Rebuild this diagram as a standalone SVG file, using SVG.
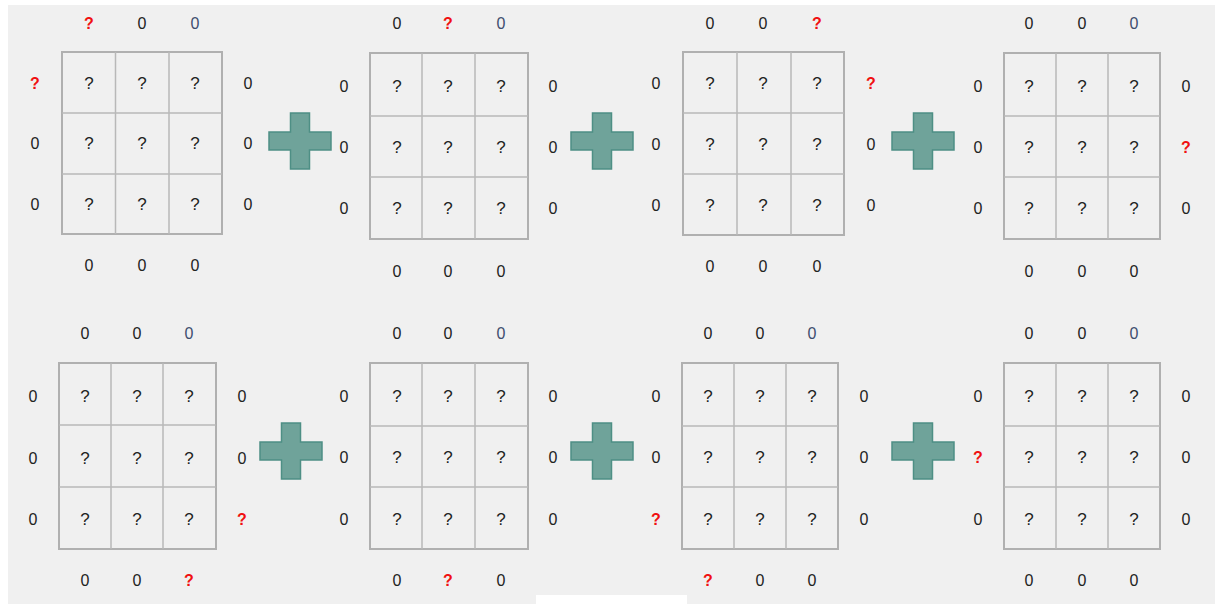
<svg xmlns="http://www.w3.org/2000/svg" width="1215" height="604" viewBox="0 0 1215 604">
<style>
.bg{fill:#f0f0f0}
.grid rect{fill:none;stroke:#b0b0b0;stroke-width:2}
.grid line{stroke:#b8b8b8;stroke-width:1.5}
text{font-family:"Liberation Sans",Arial,sans-serif;font-size:16px;text-anchor:middle;fill:#222}
.q{font-size:17px}
.r{fill:#f01010;font-weight:bold;font-size:16px}
.b{fill:#3e4d6e}
.plus{fill:#6fa39a;stroke:#4e8f85;stroke-width:1.5}
</style>
<rect x="0" y="0" width="1215" height="604" fill="#ffffff"/>
<rect class="bg" x="8" y="5" width="1207" height="599"/>
<rect x="536" y="595" width="151" height="9" fill="#ffffff"/>
<defs>
<path id="plusShape" d="M-9.5,-28 H9.5 V-9 H31 V9 H9.5 V28 H-9.5 V9 H-31 V-9 H-9.5 Z"/>
</defs>

<g id="grid1" class="grid">
<rect x="62" y="52" width="160" height="182"/>
<line x1="115.5" y1="52" x2="115.5" y2="234"/><line x1="169" y1="52" x2="169" y2="234"/>
<line x1="62" y1="113" x2="222" y2="113"/><line x1="62" y1="174" x2="222" y2="174"/>
<text class="r" x="89" y="29">?</text><text x="142" y="29">0</text><text class="b" x="195" y="29">0</text>
<text class="r" x="35" y="89">?</text><text x="35" y="149">0</text><text x="35" y="210">0</text>
<text x="248" y="89">0</text><text x="248" y="149">0</text><text x="248" y="210">0</text>
<text x="89" y="271">0</text><text x="142" y="271">0</text><text x="195" y="271">0</text>
<text class="q" x="89" y="89">?</text><text class="q" x="142" y="89">?</text><text class="q" x="195" y="89">?</text>
<text class="q" x="89" y="149">?</text><text class="q" x="142" y="149">?</text><text class="q" x="195" y="149">?</text>
<text class="q" x="89" y="210">?</text><text class="q" x="142" y="210">?</text><text class="q" x="195" y="210">?</text>
</g>

<g id="plus1"><use href="#plusShape" class="plus" x="300" y="141"/></g>

<g id="grid2" class="grid">
<rect x="370" y="53" width="158" height="186"/>
<line x1="422" y1="53" x2="422" y2="239"/><line x1="475" y1="53" x2="475" y2="239"/>
<line x1="370" y1="116" x2="528" y2="116"/><line x1="370" y1="177" x2="528" y2="177"/>
<text x="397" y="29">0</text><text class="r" x="448" y="29">?</text><text class="b" x="501" y="29">0</text>
<text x="344" y="92">0</text><text x="344" y="153">0</text><text x="344" y="214">0</text>
<text x="553" y="92">0</text><text x="553" y="153">0</text><text x="553" y="214">0</text>
<text x="397" y="277">0</text><text x="448" y="277">0</text><text x="501" y="277">0</text>
<text class="q" x="397" y="92">?</text><text class="q" x="448" y="92">?</text><text class="q" x="501" y="92">?</text>
<text class="q" x="397" y="153">?</text><text class="q" x="448" y="153">?</text><text class="q" x="501" y="153">?</text>
<text class="q" x="397" y="214">?</text><text class="q" x="448" y="214">?</text><text class="q" x="501" y="214">?</text>
</g>

<g id="plus2"><use href="#plusShape" class="plus" x="602" y="141"/></g>

<g id="grid3" class="grid">
<rect x="683" y="52" width="161" height="183"/>
<line x1="737" y1="52" x2="737" y2="235"/><line x1="791" y1="52" x2="791" y2="235"/>
<line x1="683" y1="113" x2="844" y2="113"/><line x1="683" y1="174" x2="844" y2="174"/>
<text x="710" y="29">0</text><text x="763" y="29">0</text><text class="r" x="817" y="29">?</text>
<text x="656" y="89">0</text><text x="656" y="150">0</text><text x="656" y="211">0</text>
<text class="r" x="871" y="89">?</text><text x="871" y="150">0</text><text x="871" y="211">0</text>
<text x="710" y="272">0</text><text x="763" y="272">0</text><text x="817" y="272">0</text>
<text class="q" x="710" y="89">?</text><text class="q" x="763" y="89">?</text><text class="q" x="817" y="89">?</text>
<text class="q" x="710" y="150">?</text><text class="q" x="763" y="150">?</text><text class="q" x="817" y="150">?</text>
<text class="q" x="710" y="211">?</text><text class="q" x="763" y="211">?</text><text class="q" x="817" y="211">?</text>
</g>

<g id="plus3"><use href="#plusShape" class="plus" x="923" y="141"/></g>

<g id="grid4" class="grid">
<rect x="1004" y="53" width="156" height="186"/>
<line x1="1056" y1="53" x2="1056" y2="239"/><line x1="1108" y1="53" x2="1108" y2="239"/>
<line x1="1004" y1="116" x2="1160" y2="116"/><line x1="1004" y1="177" x2="1160" y2="177"/>
<text x="1029" y="29">0</text><text x="1082" y="29">0</text><text class="b" x="1134" y="29">0</text>
<text x="978" y="92">0</text><text x="978" y="153">0</text><text x="978" y="214">0</text>
<text x="1186" y="92">0</text><text class="r" x="1186" y="153">?</text><text x="1186" y="214">0</text>
<text x="1029" y="277">0</text><text x="1082" y="277">0</text><text x="1134" y="277">0</text>
<text class="q" x="1029" y="92">?</text><text class="q" x="1082" y="92">?</text><text class="q" x="1134" y="92">?</text>
<text class="q" x="1029" y="153">?</text><text class="q" x="1082" y="153">?</text><text class="q" x="1134" y="153">?</text>
<text class="q" x="1029" y="214">?</text><text class="q" x="1082" y="214">?</text><text class="q" x="1134" y="214">?</text>
</g>

<g id="grid5" class="grid">
<rect x="59" y="363" width="157" height="186"/>
<line x1="111" y1="363" x2="111" y2="549"/><line x1="163" y1="363" x2="163" y2="549"/>
<line x1="59" y1="425" x2="216" y2="425"/><line x1="59" y1="487" x2="216" y2="487"/>
<text x="85" y="339">0</text><text x="137" y="339">0</text><text class="b" x="189" y="339">0</text>
<text x="33" y="402">0</text><text x="33" y="464">0</text><text x="33" y="525">0</text>
<text x="242" y="402">0</text><text x="242" y="464">0</text><text class="r" x="242" y="525">?</text>
<text x="85" y="586">0</text><text x="137" y="586">0</text><text class="r" x="189" y="586">?</text>
<text class="q" x="85" y="402">?</text><text class="q" x="137" y="402">?</text><text class="q" x="189" y="402">?</text>
<text class="q" x="85" y="464">?</text><text class="q" x="137" y="464">?</text><text class="q" x="189" y="464">?</text>
<text class="q" x="85" y="525">?</text><text class="q" x="137" y="525">?</text><text class="q" x="189" y="525">?</text>
</g>

<g id="plus5"><use href="#plusShape" class="plus" x="291" y="451"/></g>

<g id="grid6" class="grid">
<rect x="370" y="363" width="158" height="186"/>
<line x1="422" y1="363" x2="422" y2="549"/><line x1="475" y1="363" x2="475" y2="549"/>
<line x1="370" y1="426" x2="528" y2="426"/><line x1="370" y1="487" x2="528" y2="487"/>
<text x="397" y="339">0</text><text x="448" y="339">0</text><text class="b" x="501" y="339">0</text>
<text x="344" y="402">0</text><text x="344" y="463">0</text><text x="344" y="525">0</text>
<text x="553" y="402">0</text><text x="553" y="463">0</text><text x="553" y="525">0</text>
<text x="397" y="586">0</text><text class="r" x="448" y="586">?</text><text x="501" y="586">0</text>
<text class="q" x="397" y="402">?</text><text class="q" x="448" y="402">?</text><text class="q" x="501" y="402">?</text>
<text class="q" x="397" y="463">?</text><text class="q" x="448" y="463">?</text><text class="q" x="501" y="463">?</text>
<text class="q" x="397" y="525">?</text><text class="q" x="448" y="525">?</text><text class="q" x="501" y="525">?</text>
</g>

<g id="plus6"><use href="#plusShape" class="plus" x="602" y="451"/></g>

<g id="grid7" class="grid">
<rect x="682" y="363" width="156" height="186"/>
<line x1="734" y1="363" x2="734" y2="549"/><line x1="786" y1="363" x2="786" y2="549"/>
<line x1="682" y1="426" x2="838" y2="426"/><line x1="682" y1="487" x2="838" y2="487"/>
<text x="708" y="339">0</text><text x="760" y="339">0</text><text class="b" x="812" y="339">0</text>
<text x="656" y="402">0</text><text x="656" y="463">0</text><text class="r" x="656" y="525">?</text>
<text x="864" y="402">0</text><text x="864" y="463">0</text><text x="864" y="525">0</text>
<text class="r" x="708" y="586">?</text><text x="760" y="586">0</text><text x="812" y="586">0</text>
<text class="q" x="708" y="402">?</text><text class="q" x="760" y="402">?</text><text class="q" x="812" y="402">?</text>
<text class="q" x="708" y="463">?</text><text class="q" x="760" y="463">?</text><text class="q" x="812" y="463">?</text>
<text class="q" x="708" y="525">?</text><text class="q" x="760" y="525">?</text><text class="q" x="812" y="525">?</text>
</g>

<g id="plus7"><use href="#plusShape" class="plus" x="923" y="451"/></g>

<g id="grid8" class="grid">
<rect x="1004" y="363" width="156" height="186"/>
<line x1="1056" y1="363" x2="1056" y2="549"/><line x1="1108" y1="363" x2="1108" y2="549"/>
<line x1="1004" y1="426" x2="1160" y2="426"/><line x1="1004" y1="487" x2="1160" y2="487"/>
<text x="1029" y="339">0</text><text x="1082" y="339">0</text><text class="b" x="1134" y="339">0</text>
<text x="978" y="402">0</text><text class="r" x="978" y="463">?</text><text x="978" y="525">0</text>
<text x="1186" y="402">0</text><text x="1186" y="463">0</text><text x="1186" y="525">0</text>
<text x="1029" y="586">0</text><text x="1082" y="586">0</text><text x="1134" y="586">0</text>
<text class="q" x="1029" y="402">?</text><text class="q" x="1082" y="402">?</text><text class="q" x="1134" y="402">?</text>
<text class="q" x="1029" y="463">?</text><text class="q" x="1082" y="463">?</text><text class="q" x="1134" y="463">?</text>
<text class="q" x="1029" y="525">?</text><text class="q" x="1082" y="525">?</text><text class="q" x="1134" y="525">?</text>
</g>
</svg>
